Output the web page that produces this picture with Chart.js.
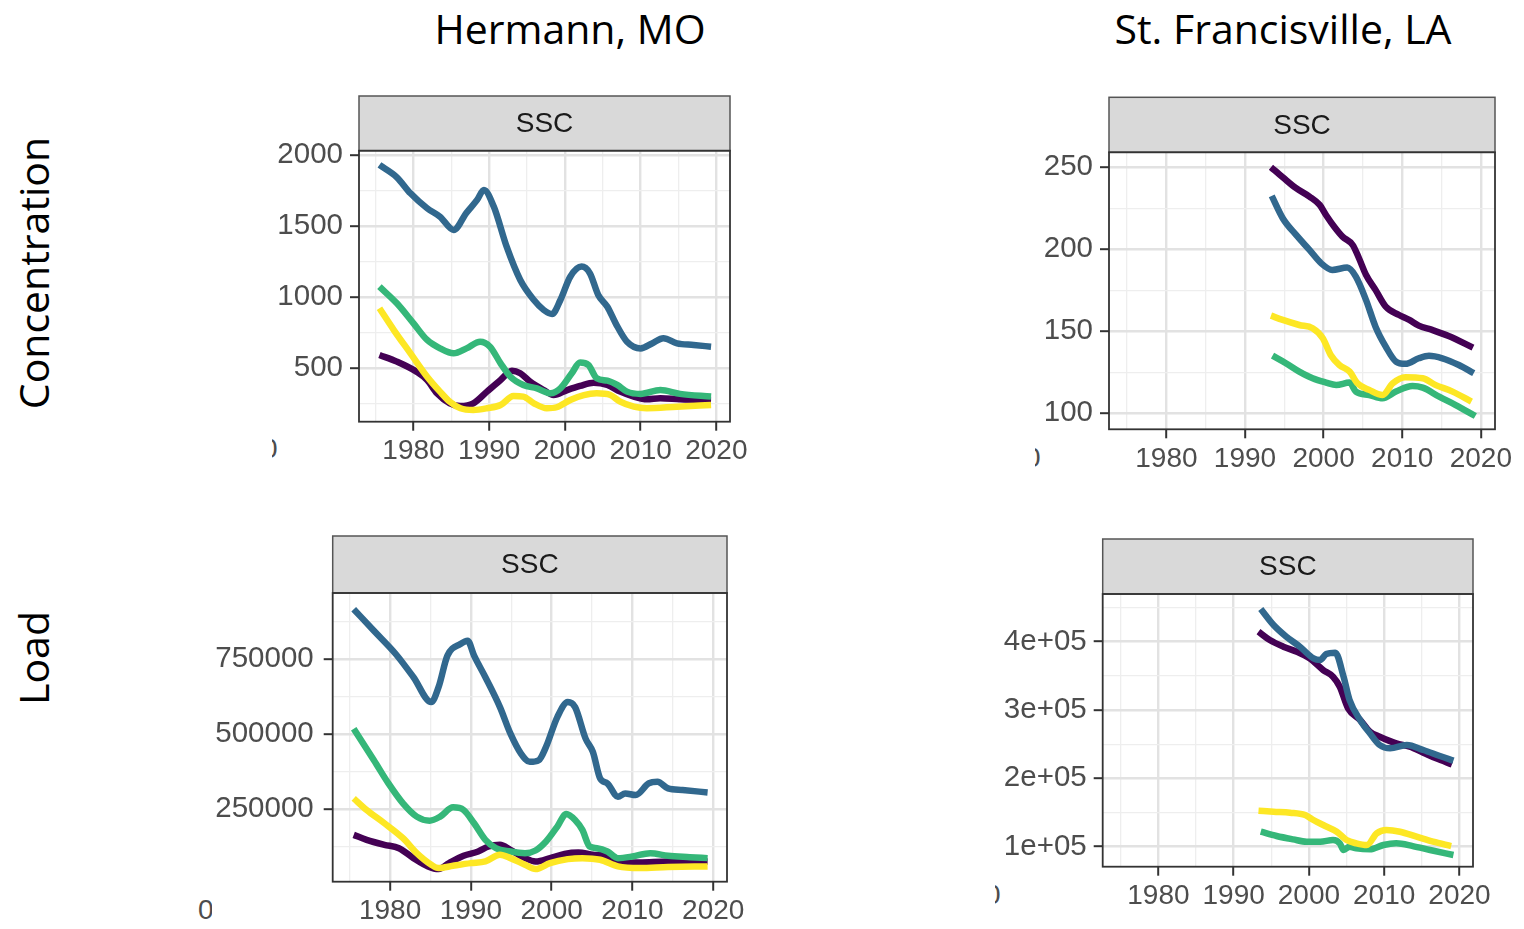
<!DOCTYPE html>
<html>
<head>
<meta charset="utf-8">
<script src="https://cdn.jsdelivr.net/npm/chart.js@4.4.0/dist/chart.umd.min.js"></script>
<style>
  body { margin: 0; background: #fff; width: 1524px; height: 929px; position: relative; overflow: hidden; }
  canvas { position: absolute; }
  .title { position: absolute; font-family: "Open Sans"; font-size: 41px; color: #000; white-space: nowrap; transform: translate(-50%, -50%); }
  .row { position: absolute; font-family: "Open Sans"; font-size: 41px; color: #000; white-space: nowrap; transform: translate(-50%, -50%) rotate(-90deg); }
  .cut { position: absolute; overflow: hidden; height: 34px; font-family: "Liberation Sans"; font-size: 28px; color: #4d4d4d; }
  .cut span { position: absolute; top: 0; }
</style>
</head>
<body>
<div class="title" style="left:570px; top:28px">Hermann, MO</div>
<div class="title" style="left:1283px; top:28px">St. Francisville, LA</div>
<div class="row" style="left:33px; top:273px">Concentration</div>
<div class="row" style="left:33px; top:658px">Load</div>

<div class="cut" style="left:272px; top:433px; width:6px"><span style="left:-10px">0</span></div>
<div class="cut" style="left:1035px; top:442px; width:6px"><span style="left:-10px">0</span></div>
<div class="cut" style="left:198px; top:894px; width:14px"><span style="left:0px">0</span></div>
<div class="cut" style="left:995px; top:879px; width:6px"><span style="left:-10px">0</span></div>

<canvas id="c1" width="500" height="390" style="left:250px; top:90px"></canvas>
<canvas id="c2" width="515" height="400" style="left:1000px; top:90px"></canvas>
<canvas id="c3" width="567" height="404" style="left:180px; top:525px"></canvas>
<canvas id="c4" width="503" height="399" style="left:990px; top:530px"></canvas>

<script>
// Hermann, MO - concentration
const hcPurpleX = [1975.5, 1977.8, 1980.4, 1981.8, 1983.1, 1984.8, 1986.2, 1987.9, 1989.7, 1991.5, 1993, 1994.1, 1995.4, 1997.2, 1998.5, 2000.3, 2002, 2003.8, 2005.6, 2007.3, 2009.1, 2010.8, 2012.6, 2015.2, 2019.3];
const hcPurple  = [594, 547, 476, 418, 324, 254, 235, 254, 336, 418, 483, 465, 406, 347, 312, 347, 376, 399, 383, 336, 301, 282, 289, 282, 277];
const hcBlueX   = [1975.5, 1977.8, 1979.6, 1981.8, 1983.5, 1985.3, 1987, 1988.4, 1989.3, 1990.6, 1992.3, 1994.1, 1995.9, 1997.2, 1998.3, 1999.4, 2000.7, 2002.2, 2003.3, 2004.4, 2005.6, 2006.7, 2008.2, 2010, 2011.5, 2013, 2014.8, 2017, 2019.3];
const hcBlue    = [1930, 1843, 1730, 1625, 1566, 1473, 1594, 1684, 1754, 1637, 1355, 1121, 980, 910, 882, 980, 1144, 1215, 1168, 1016, 933, 816, 687, 640, 675, 711, 675, 664, 652];
const hcGreenX  = [1975.5, 1977.8, 1980, 1981.8, 1983.5, 1985.3, 1987, 1988.8, 1990.1, 1991.5, 1992.8, 1994.5, 1996.3, 1998.1, 1999.4, 2000.9, 2002, 2003.1, 2004.2, 2005.6, 2006.9, 2008.2, 2010, 2012.6, 2015.2, 2019.3];
const hcGreen   = [1074, 957, 816, 699, 640, 605, 640, 687, 652, 535, 441, 383, 359, 324, 359, 465, 540, 523, 430, 413, 383, 336, 320, 347, 320, 301];
const hcYellowX = [1975.5, 1977.4, 1979.6, 1981.8, 1983.5, 1984.8, 1986.2, 1987.9, 1989.7, 1991.5, 1993.2, 1994.5, 1995.9, 1997.6, 1998.9, 2000.7, 2002.5, 2004.2, 2006, 2007.3, 2009.1, 2010.8, 2014.8, 2019.3];
const hcYellow  = [922, 769, 605, 441, 336, 265, 219, 207, 219, 242, 305, 301, 254, 219, 226, 277, 312, 324, 312, 265, 230, 219, 230, 242];
const hcTicks   = [250, 500, 750, 1000, 1250, 1500, 1750, 2000];

// St. Francisville, LA - concentration
const scPurpleX = [1993.3, 1994.8, 1996.5, 1998.2, 1999.5, 2000.3, 2001.4, 2002.4, 2003.7, 2004.5, 2005.4, 2006.6, 2007.9, 2009.6, 2010.9, 2012.1, 2013.8, 2015.9, 2019];
const scPurple  = [250, 243.9, 237.2, 232.1, 227, 220.9, 213.4, 207.7, 202.6, 194.5, 184.3, 175.2, 165, 159.9, 156.9, 153.4, 150.8, 147.1, 140];
const scBlueX   = [1993.4, 1994.8, 1996.5, 1998.2, 1999.7, 2001.1, 2003, 2004.1, 2005.4, 2006.6, 2007.9, 2009.2, 2010.4, 2012.1, 2013.4, 2015.1, 2017.2, 2019.1];
const scBlue    = [232.5, 218.9, 208.7, 199.6, 191.4, 187.4, 188.8, 183.3, 169, 152.8, 140.6, 131.5, 130.1, 133.5, 135, 133.5, 129.4, 124.4];
const scGreenX  = [1993.5, 1995.2, 1996.9, 1998.6, 2000.3, 2001.6, 2003.3, 2004.1, 2005.8, 2007.5, 2009.2, 2011.3, 2012.6, 2014.7, 2016.8, 2019.3];
const scGreen   = [135.1, 130.5, 125.4, 121.3, 118.7, 117.2, 118.7, 113.2, 111.1, 109.1, 113.2, 116.6, 115.6, 110.1, 105, 98.3];
const scYellowX = [1993.3, 1994.8, 1996.9, 1998.6, 1999.9, 2000.9, 2002, 2003.3, 2004.3, 2005.8, 2007.5, 2008.8, 2010.4, 2012.6, 2014.2, 2016.4, 2018.8];
const scYellow  = [159.5, 156.9, 153.8, 151.8, 145.7, 135.5, 129.4, 125.4, 118.3, 114.2, 111.1, 118.3, 122, 121.3, 117.3, 113.2, 107.1];
const scTicks   = [100, 125, 150, 175, 200, 225, 250];

// Hermann, MO - load
const hlPurpleX = [1975.5, 1977.1, 1979.3, 1981.1, 1982.9, 1984.7, 1986, 1987.3, 1989.1, 1990.9, 1992.2, 1993.6, 1994.9, 1996.7, 1998, 1999.8, 2001.6, 2003.3, 2005.1, 2006.4, 2008.2, 2010.9, 2014.4, 2019.3];
const hlPurple  = [165000, 148400, 131900, 120800, 87700, 60100, 51300, 71100, 95400, 109800, 126400, 131900, 115300, 87700, 76700, 87700, 102000, 106500, 98800, 95400, 76700, 73400, 76700, 76700];
const hlBlueX   = [1975.5, 1978, 1980.7, 1982.9, 1985.1, 1986, 1987.1, 1988.7, 1989.6, 1990.4, 1991.8, 1993.6, 1994.9, 1996.2, 1997.3, 1998.4, 1999.3, 2000.7, 2002, 2002.9, 2004.2, 2005.1, 2006, 2006.9, 2008.2, 2009.1, 2010.4, 2012, 2013.1, 2014.4, 2016.2, 2019.3];
const hlBlue    = [915600, 843800, 766600, 689300, 606500, 656200, 761000, 799700, 810700, 761000, 689300, 590000, 501600, 435400, 407800, 413300, 457500, 556800, 606500, 590000, 485100, 440900, 352600, 336100, 291900, 302900, 297400, 336100, 341600, 319500, 314000, 306300];
const hlGreenX  = [1975.5, 1978, 1979.8, 1981.6, 1983.3, 1984.9, 1986.2, 1987.8, 1989.1, 1990.4, 1991.8, 1993.1, 1994.9, 1996.7, 1998, 1999.3, 2000.7, 2001.8, 2002.9, 2003.8, 2004.7, 2005.6, 2006.9, 2008.2, 2010, 2012.2, 2014.4, 2017.1, 2019.3];
const hlGreen   = [518200, 413300, 336100, 269800, 225700, 212400, 225700, 256600, 247800, 203600, 148400, 120800, 109800, 104300, 113100, 142900, 192600, 234500, 214600, 181500, 126400, 120800, 109800, 87700, 93200, 104300, 95400, 91000, 87700];
const hlYellowX = [1975.5, 1977.1, 1979.3, 1981.6, 1983.3, 1985.1, 1986, 1987.8, 1990, 1991.8, 1993.6, 1994.9, 1996.7, 1998, 1999.8, 2002, 2003.8, 2006, 2008.2, 2010.9, 2014.4, 2019.3];
const hlYellow  = [286400, 247800, 203600, 153900, 104300, 65600, 54600, 62300, 71100, 76700, 98800, 87700, 65600, 51300, 71100, 84400, 87700, 82200, 60100, 54600, 57900, 60100];
const hlTicks   = [125000, 250000, 375000, 500000, 625000, 750000, 875000];

// St. Francisville, LA - load
const slPurpleX = [1993.3, 1994.8, 1996.6, 1998.4, 2000.1, 2001.9, 2003.2, 2004.1, 2005.2, 2006.8, 2008.1, 2009.4, 2011.6, 2013.4, 2015.2, 2016.9, 2019];
const slPurple  = [414600, 402400, 392700, 385400, 375600, 358500, 348800, 334100, 302400, 285400, 268300, 261000, 251200, 246300, 237600, 229300, 220500];
const slBlueX   = [1993.6, 1995.3, 1997, 1998.8, 2000.6, 2001.5, 2002.3, 2003.5, 2004.6, 2005.4, 2006.8, 2008.1, 2009.4, 2010.8, 2013, 2015.2, 2017.4, 2019.2];
const slBlue    = [447800, 424400, 407300, 392700, 375600, 373200, 382000, 383900, 348800, 314600, 285400, 265900, 248800, 243900, 248800, 241500, 232700, 225900];
const slGreenX  = [1993.6, 1995.7, 1997.9, 1999.7, 2001.5, 2003.2, 2004.1, 2004.6, 2005.4, 2006.3, 2008.1, 2009.9, 2011.6, 2013.8, 2016.1, 2019.2];
const slGreen   = [121900, 115600, 110700, 107300, 107300, 109800, 104900, 95100, 100000, 97600, 96100, 102400, 104900, 100900, 95100, 87800];
const slYellowX = [1993.3, 1995.3, 1997.5, 1999.5, 2000.6, 2001.9, 2003.7, 2005, 2006.3, 2007.7, 2009, 2010.3, 2012.1, 2014.3, 2016.5, 2018.9];
const slYellow  = [152700, 151200, 149800, 146300, 139000, 131700, 121900, 109800, 104900, 102400, 119500, 124400, 121900, 114600, 107300, 100900];
const slTicks   = [100000, 150000, 200000, 250000, 300000, 350000, 400000, 450000];

// x grid every 5 years, labels every 10
const yearTicks = [1975, 1980, 1985, 1990, 1995, 2000, 2005, 2010, 2015, 2020];
const yearLabelStep = 10;

const viridis = { purple: '#440154', blue: '#31688e', green: '#35b779', yellow: '#fde725' };
const xTickFont = { family: 'Liberation Sans', size: 28 };
const yTickFont = { family: 'Liberation Sans', size: 29.5 };
const tickColor = '#4d4d4d';

function pts(xs, ys) {
    return xs.map(function (x, i) { return { x: x, y: ys[i] }; });
}

const stripPlugin = {
    id: 'strip',
    afterDraw: function (chart) {
        const a = chart.chartArea, ctx = chart.ctx;
        const h = chart.options.plugins.strip.height;
        ctx.save();
        ctx.fillStyle = '#d9d9d9';
        ctx.fillRect(a.left, a.top - h, a.right - a.left, h);
        ctx.strokeStyle = '#555';
        ctx.lineWidth = 1.5;
        ctx.strokeRect(a.left, a.top - h, a.right - a.left, h);
        ctx.strokeStyle = '#333';
        ctx.lineWidth = 1.8;
        ctx.strokeRect(a.left, a.top, a.right - a.left, a.bottom - a.top);
        ctx.fillStyle = '#1a1a1a';
        ctx.font = '28px "Liberation Sans"';
        ctx.textAlign = 'center';
        ctx.textBaseline = 'middle';
        ctx.fillText('SSC', (a.left + a.right) / 2, a.top - h / 2 + 1);
        ctx.restore();
    }
};

function gridOpts(isMajor) {
    return {
        color: function (c) { return isMajor(c.tick.value) ? '#e2e2e2' : '#eeeeee'; },
        lineWidth: function (c) { return isMajor(c.tick.value) ? 2.4 : 1.3; },
        tickColor: function (c) { return isMajor(c.tick.value) ? '#333' : 'rgba(0,0,0,0)'; },
        tickWidth: 2,
        tickLength: 9,
        drawTicks: true
    };
}

function setTicks(list) {
    return function (s) { s.ticks = list.map(function (v) { return { value: v }; }); };
}

function makePanel(id, box, xr, yr, yTicks, yMajor, yFmt, series) {
    const xMajor = function (v) { return Math.abs(v % yearLabelStep) < 1e-6; };
    const yIsMajor = function (v) { return Math.abs(v % yMajor) < 1e-6; };
    new Chart(document.getElementById(id), {
        type: 'line',
        data: {
            // drawn last-first, so yellow ends on top like the ggplot original
            datasets: [
                { data: pts(series[3][0], series[3][1]), borderColor: viridis.yellow },
                { data: pts(series[2][0], series[2][1]), borderColor: viridis.green },
                { data: pts(series[1][0], series[1][1]), borderColor: viridis.blue },
                { data: pts(series[0][0], series[0][1]), borderColor: viridis.purple }
            ]
        },
        options: {
            responsive: false,
            animation: false,
            devicePixelRatio: 1,
            layout: { padding: { top: box.padTop, right: box.padRight, left: 0, bottom: 0 } },
            plugins: { legend: { display: false }, tooltip: { enabled: false }, strip: { height: box.strip } },
            elements: {
                point: { radius: 0 },
                line: { borderWidth: 6.5, cubicInterpolationMode: 'monotone', borderCapStyle: 'butt', borderJoinStyle: 'round', fill: false }
            },
            scales: {
                x: {
                    type: 'linear', min: xr[0], max: xr[1],
                    border: { display: false },
                    grid: gridOpts(xMajor),
                    afterBuildTicks: setTicks(yearTicks),
                    afterFit: function (s) { s.height = box.xh; s.paddingLeft = 0; s.paddingRight = 0; },
                    ticks: {
                        autoSkip: false, maxRotation: 0, minRotation: 0,
                        padding: 4, font: xTickFont, color: tickColor,
                        callback: function (v) { return xMajor(v) ? String(v) : ''; }
                    }
                },
                y: {
                    min: yr[0], max: yr[1],
                    border: { display: false },
                    grid: gridOpts(yIsMajor),
                    afterBuildTicks: setTicks(yTicks),
                    afterFit: function (s) { s.width = box.yw; s.paddingTop = 0; s.paddingBottom = 0; },
                    ticks: {
                        autoSkip: false,
                        padding: box.yPad, font: yTickFont, color: tickColor,
                        callback: function (v) { return yIsMajor(v) ? yFmt(v) : ''; }
                    }
                }
            }
        },
        plugins: [stripPlugin]
    });
}

const plain = function (v) { return String(v); };
const sci = function (v) { return (v / 100000) + 'e+05'; };

makePanel('c1', { padTop: 60.7, padRight: 20, yw: 109, xh: 58.3, strip: 54.7, yPad: 7 },
    [1972.8, 2021.8], [124.5, 2030], hcTicks, 500, plain,
    [[hcPurpleX, hcPurple], [hcBlueX, hcBlue], [hcGreenX, hcGreen], [hcYellowX, hcYellow]]);

makePanel('c2', { padTop: 62.3, padRight: 20, yw: 109, xh: 60.7, strip: 55, yPad: 7 },
    [1972.7, 2021.8], [90.2, 259.1], scTicks, 50, plain,
    [[scPurpleX, scPurple], [scBlueX, scBlue], [scGreenX, scGreen], [scYellowX, scYellow]]);

makePanel('c3', { padTop: 68, padRight: 20, yw: 152.7, xh: 47.3, strip: 57, yPad: 10 },
    [1972.9, 2021.7], [9300, 969400], hlTicks, 250000, plain,
    [[hlPurpleX, hlPurple], [hlBlueX, hlBlue], [hlGreenX, hlGreen], [hlYellowX, hlYellow]]);

makePanel('c4', { padTop: 64, padRight: 20, yw: 112.7, xh: 62.3, strip: 55, yPad: 7 },
    [1972.6, 2021.8], [70700, 469800], slTicks, 100000, sci,
    [[slPurpleX, slPurple], [slBlueX, slBlue], [slGreenX, slGreen], [slYellowX, slYellow]]);
</script>
</body>
</html>
